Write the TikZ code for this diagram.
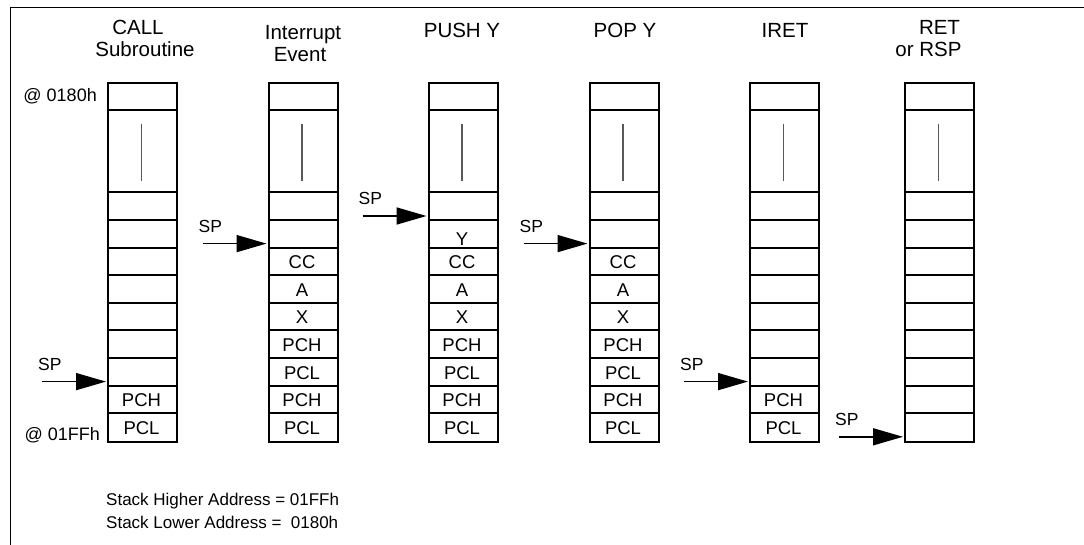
\documentclass[tikz,border=0pt]{standalone}
\usepackage{fontspec}
\setmainfont{Liberation Sans}
\usetikzlibrary{arrows.meta}
\begin{document}
\begin{tikzpicture}[x=1pt,y=-1pt,
  stackbox/.style={draw, line width=2pt, minimum width=69pt, minimum height=358.8pt, inner sep=0pt, anchor=north west},
  rowline/.style={line width=1.9pt},
  divider/.style={line width=1.5pt, draw=black!65},
  sparrow/.style={line width=1.6pt, -{Triangle[length=30pt,width=17pt]}},
  hdr/.style={anchor=base, inner sep=0pt, font=\fontsize{20.5}{24}\selectfont},
  cell/.style={anchor=base, inner sep=0pt, font=\fontsize{18.5}{21}\selectfont},
  splabel/.style={anchor=base west, inner sep=0pt, font=\fontsize{17.5}{20}\selectfont},
  addr/.style={anchor=base east, inner sep=0pt, font=\fontsize{18}{21}\selectfont},
  note/.style={anchor=base west, inner sep=0pt, font=\fontsize{17}{20}\selectfont}]
\useasboundingbox (0,0) rectangle (1084,545);
% frame
\coordinate (fbl) at (10.5,545);
\coordinate (ftl) at (10.5,7.5);
\coordinate (ftr) at (1084,7.5);
\draw[line width=1.8pt] (fbl) -- (ftl) -- (ftr);

% stacks
\foreach \i/\xl in {1/107,2/267.5,3/427.5,4/588.5,5/749,6/904} {
  \node[stackbox] (s\i) at (\xl,82) {};
  \foreach \yy in {109.6,192.4,220,247.6,275.2,302.8,330.4,358,385.6,413.2}
    \draw[rowline] (\xl,\yy) -- ++(69,0);
  \draw[divider] (\xl+34.5,124) -- (\xl+34.5,181);
}

% headers
\node[hdr] (h1a) at (138,35) {CALL};
\node[hdr] (h1b) at (145,57) {Subroutine};
\node[hdr] (h2a) at (303,40) {Interrupt};
\node[hdr] (h2b) at (300,62) {Event};
\node[hdr] (h3) at (462,38) {PUSH Y};
\node[hdr] (h4) at (625,38) {POP Y};
\node[hdr] (h5) at (785,38) {IRET};
\node[hdr] (h6a) at (939.5,35) {RET};
\node[hdr] (h6b) at (928.5,57) {or RSP};

% address labels
\node[addr] (atop) at (97,102) {@ 0180h};
\node[addr] (abot) at (100,440) {@ 01FFh};

% cell contents
% column 1
\node[cell] (c1a) at (141.5,406.7) {PCH};
\node[cell] (c1b) at (141.5,434.3) {PCL};
% columns 2,3,4
\foreach \c/\xc in {2/302,3/462,4/623} {
  \node[cell] (c\c cc) at (\xc,268.7) {CC};
  \node[cell] (c\c a) at (\xc,296.3) {A};
  \node[cell] (c\c x) at (\xc,323.9) {X};
  \node[cell] (c\c p1) at (\xc,351.5) {PCH};
  \node[cell] (c\c p2) at (\xc,379.1) {PCL};
  \node[cell] (c\c p3) at (\xc,406.7) {PCH};
  \node[cell] (c\c p4) at (\xc,434.3) {PCL};
}
\node[cell] (c3y) at (462,245.6) {Y};
% column 5
\node[cell] (c5a) at (783.5,406.7) {PCH};
\node[cell] (c5b) at (783.5,434.3) {PCL};

% SP arrows
\foreach \i/\xl/\ya in {1/107/381.6,2/267.5/243.6,3/427.5/216,4/588.5/243.6,5/749/381.6,6/904/436.8} {
  \coordinate (tip\i) at (\xl-1,\ya);
  \coordinate (tail\i) at (\xl-65,\ya);
  \draw[sparrow] (tail\i) -- (tip\i);
  \node[splabel] (sp\i) at (\xl-69,\ya-11) {SP};
}

% notes
\node[note] (n1) at (106,505) {Stack Higher Address = 01FFh};
\node[note] (n2) at (106,528) {Stack Lower Address = \ 0180h};
\end{tikzpicture}
\end{document}
